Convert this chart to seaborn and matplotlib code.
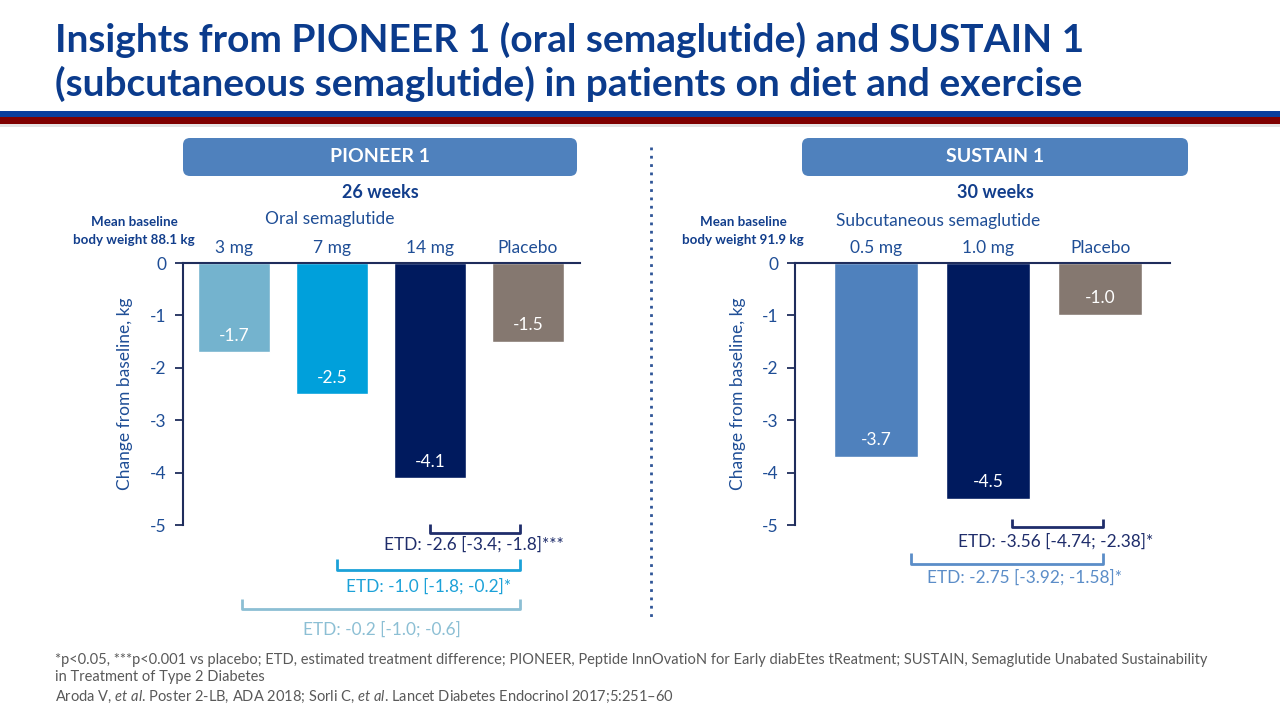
import pandas as pd
import matplotlib.pyplot as plt
import seaborn as sns
from matplotlib.patches import FancyBboxPatch, Rectangle

# ============================================================
# 데이터
# ============================================================

pioneer_groups = ["3 mg", "7 mg", "14 mg", "Placebo"]
pioneer_change = [-1.7, -2.5, -4.1, -1.5]
pioneer_colors = ["#74B3CE", "#00A0DB", "#001A5E", "#857870"]

sustain_groups = ["0.5 mg", "1.0 mg", "Placebo"]
sustain_change = [-3.7, -4.5, -1.0]
sustain_colors = ["#4F81BD", "#001A5E", "#857870"]

pioneer_etd = [
    "ETD: -2.6 [-3.4; -1.8]***",
    "ETD: -1.0 [-1.8; -0.2]*",
    "ETD: -0.2 [-1.0; -0.6]",
]
sustain_etd = [
    "ETD: -3.56 [-4.74; -2.38]*",
    "ETD: -2.75 [-3.92; -1.58]*",
]

y_ticks = [0, -1, -2, -3, -4, -5]

# ============================================================
# 기본 설정
# ============================================================

sns.set_style("white")
plt.rcParams['font.family'] = ['Lato', 'DejaVu Sans']
plt.rcParams['mathtext.fontset'] = 'custom'
plt.rcParams['mathtext.rm'] = 'Lato'
plt.rcParams['mathtext.it'] = 'Lato:italic'

NAVY = "#1F2D5C"
BLUE_TXT = "#1F4E96"
TITLE = "#0B3B8C"

fig = plt.figure(figsize=(12.8, 7.2), dpi=100)

# 픽셀 좌표 오버레이
bg = fig.add_axes([0, 0, 1, 1])
bg.set_xlim(0, 1280)
bg.set_ylim(720, 0)
bg.axis("off")

bg.text(55, 52, "Insights from PIONEER 1 (oral semaglutide) and SUSTAIN 1",
        fontsize=28, fontweight="bold", color=TITLE, va="baseline")
bg.text(55, 96, "(subcutaneous semaglutide) in patients on diet and exercise",
        fontsize=28, fontweight="bold", color=TITLE, va="baseline")

bg.add_patch(Rectangle((0, 124), 1280, 3, color="#E4E4E4", lw=0))
bg.add_patch(Rectangle((0, 111), 1280, 6, color="#0A3E9C", lw=0))
bg.add_patch(Rectangle((0, 117), 1280, 7, color="#7F0000", lw=0))

for x0, x1, name, weeks in [(183, 577, "PIONEER 1", "26 weeks"),
                            (802, 1188, "SUSTAIN 1", "30 weeks")]:
    bg.add_patch(FancyBboxPatch((x0, 138), x1 - x0, 38,
                                boxstyle="round,pad=0,rounding_size=7",
                                fc="#4F81BD", ec="none"))
    bg.text((x0 + x1) / 2, 157, name, color="white", fontsize=14,
            fontweight="bold", ha="center", va="center")
    bg.text((x0 + x1) / 2, 192, weeks, color="#123E8C", fontsize=13,
            fontweight="bold", ha="center", va="center")

bg.text(134, 231, "Mean baseline\nbody weight 88.1 kg", color="#123E8C",
        fontsize=9.6, fontweight="bold", ha="center", va="center", linespacing=1.5)
bg.text(743, 231, "Mean baseline\nbody weight 91.9 kg", color="#123E8C",
        fontsize=9.6, fontweight="bold", ha="center", va="center", linespacing=1.5)
bg.text(330, 219, "Oral semaglutide", color=BLUE_TXT, fontsize=12.5,
        ha="center", va="center")
bg.text(938, 221, "Subcutaneous semaglutide", color=BLUE_TXT, fontsize=12.5,
        ha="center", va="center")

bg.plot([651, 651], [147, 620], color="#2F5597", lw=2, ls=(0, (1, 2)))

bg.text(55, 660, "*p<0.05, ***p<0.001 vs placebo; ETD, estimated treatment difference; "
        "PIONEER, Peptide InnOvatioN for Early diabEtes tReatment; SUSTAIN, "
        "Semaglutide Unabated Sustainability", fontsize=10.5, color="#595959", va="center")
bg.text(55, 677, "in Treatment of Type 2 Diabetes", fontsize=10.5, color="#595959",
        va="center")
bg.text(55, 697, r"Aroda V, $\it{et\ al}$. Poster 2-LB, ADA 2018; Sorli C, "
        r"$\it{et\ al}$. Lancet Diabetes Endocrinol 2017;5:251–60",
        fontsize=10.5, color="#595959", va="center")

# ============================================================
# 막대 그래프
# ============================================================

def draw_panel(rect, groups, values, colors, xlim, width, label_off):
    ax = fig.add_axes(rect)
    ax.patch.set_alpha(0)
    df = pd.DataFrame({"group": groups, "change": values})
    sns.barplot(data=df, x="group", y="change", hue="group", order=groups,
                palette=colors, width=width, legend=False, saturation=1,
                ax=ax)
    ax.set_ylim(-5, 0)
    ax.set_xlim(*xlim)
    ax.set_yticks(y_ticks)
    ax.set_yticklabels([str(t) for t in y_ticks])
    ax.xaxis.tick_top()
    ax.set_xlabel("")
    ax.set_ylabel("Change from baseline, kg", color=BLUE_TXT, fontsize=12.5)
    ax.tick_params(axis="x", length=0, pad=5, labelsize=12.5, labelcolor=BLUE_TXT)
    ax.tick_params(axis="y", length=6, width=1.3, color=NAVY, direction="out",
                   labelsize=12.5, labelcolor=BLUE_TXT, pad=6, left=True)
    for s in ["bottom", "right"]:
        ax.spines[s].set_visible(False)
    for s in ["top", "left"]:
        ax.spines[s].set_color(NAVY)
        ax.spines[s].set_linewidth(1.5)
    for i, v in enumerate(values):
        ax.text(i, v + label_off, f"{v:.1f}", color="white", fontsize=12.5,
                ha="center", va="center")
    return ax

ax1 = draw_panel([183 / 1280, 1 - 525 / 720, 397 / 1280, 262 / 720],
                 pioneer_groups, pioneer_change, pioneer_colors,
                 (-0.52, 3.53), 0.73, 0.31)
ax1.yaxis.set_label_coords(-0.127, 0.5)

ax2 = draw_panel([795 / 1280, 1 - 525 / 720, 375 / 1280, 262 / 720],
                 sustain_groups, sustain_change, sustain_colors,
                 (-0.72, 2.62), 0.75, 0.33)
ax2.yaxis.set_label_coords(-0.132, 0.5)

# ============================================================
# ETD 괄호
# ============================================================

def bracket(ax, x0, x1, ytop, yline, color):
    ax.plot([x0, x0, x1, x1], [-ytop, -yline, -yline, -ytop], color=color,
            lw=2, clip_on=False, solid_capstyle="butt")

etd_left_colors = ["#1F2D6B", "#1BA1D8", "#8CBFD4"]
bracket(ax1, 2.0, 2.92, 4.98, 5.15, etd_left_colors[0])
bracket(ax1, 1.05, 2.92, 5.65, 5.86, etd_left_colors[1])
bracket(ax1, 0.08, 2.92, 6.41, 6.60, etd_left_colors[2])
for (x, y), txt, c in zip([(2.45, 5.37), (1.99, 6.18), (1.51, 7.0)],
                          pioneer_etd, etd_left_colors):
    ax1.text(x, -y, txt, color=c, fontsize=12.4, ha="center", va="center",
             clip_on=False)

etd_right_colors = ["#1F2D6B", "#5B8DC8"]
bracket(ax2, 1.21, 2.02, 4.89, 5.04, etd_right_colors[0])
bracket(ax2, 0.31, 2.02, 5.53, 5.74, etd_right_colors[1])
for (x, y), txt, c in zip([(1.60, 5.32), (1.32, 6.01)],
                          sustain_etd, etd_right_colors):
    ax2.text(x, -y, txt, color=c, fontsize=12.4, ha="center", va="center",
             clip_on=False)

plt.savefig("out.png", dpi=100)
